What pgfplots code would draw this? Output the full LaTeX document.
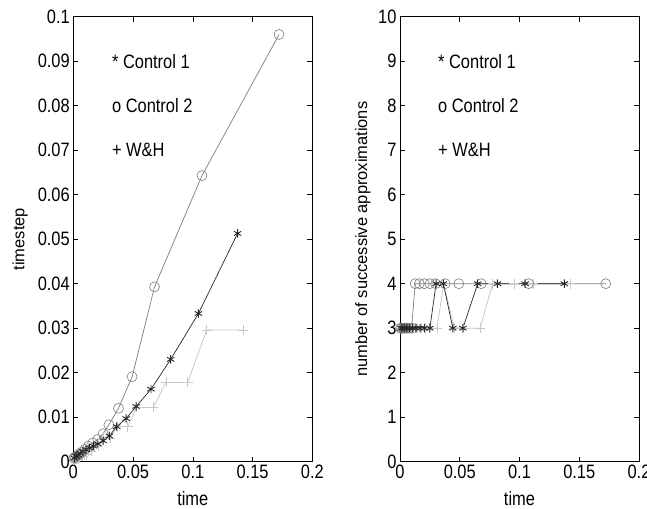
\documentclass[border=0pt]{standalone}
\usepackage{fontspec}
\setmainfont{Liberation Sans}
\usepackage{graphicx}
\usepackage{pgfplots}
\usepackage{pgfplotstable}
\pgfplotsset{compat=1.18}

\definecolor{cone}{RGB}{40,40,40}
\definecolor{ctwo}{RGB}{125,125,125}
\definecolor{cwh}{RGB}{200,200,200}

\newcommand{\tall}[1]{\scalebox{1}[1.18]{#1}}

% time, timestep, number of successive approximations
\pgfplotstableread{
t dt n
0.0010 0.0008 3
0.0024 0.0012 3
0.0040 0.0015 3
0.0058 0.0019 3
0.0080 0.0023 3
0.0105 0.0027 3
0.0135 0.0031 3
0.0168 0.0035 3
0.0205 0.0040 3
0.0250 0.0047 3
0.0302 0.0058 4
0.0363 0.0079 4
0.0442 0.0097 3
0.0526 0.0124 3
0.0650 0.0163 4
0.0815 0.0230 4
0.1047 0.0333 4
0.1375 0.0513 4
}\ctrlone

\pgfplotstableread{
t dt n
0.0004 0.0008 3
0.0013 0.0010 3
0.0025 0.0012 3
0.0038 0.0015 3
0.0054 0.0018 3
0.0073 0.0022 3
0.0097 0.0028 3
0.0127 0.0035 4
0.0162 0.0042 4
0.0204 0.0050 4
0.0250 0.0063 4
0.0298 0.0083 4
0.0378 0.0120 4
0.0492 0.0191 4
0.0680 0.0393 4
0.1077 0.0643 4
0.1722 0.0960 4
}\ctrltwo

\pgfplotstableread{
t dt n
0.0005 0.0004 3
0.0010 0.0004 3
0.0016 0.0005 3
0.0022 0.0005 3
0.0030 0.0007 3
0.0037 0.0007 3
0.0046 0.0009 3
0.0055 0.0009 3
0.0066 0.0012 3
0.0078 0.0012 3
0.0092 0.0016 3
0.0108 0.0016 3
0.0126 0.0023 3
0.0149 0.0023 3
0.0175 0.0035 3
0.0210 0.0035 3
0.0250 0.0053 3
0.0310 0.0053 3
0.0365 0.0079 4
0.0455 0.0079 3
0.0530 0.0122 3
0.0670 0.0122 3
0.0775 0.0178 4
0.0957 0.0178 4
0.1116 0.0296 4
0.1423 0.0296 4
}\wh

\pgfplotsset{
  panel/.style={
    width=239bp, height=445bp, scale only axis,
    xmin=0, xmax=0.2,
    xtick={0,0.05,0.1,0.15,0.2},
    scaled x ticks=false, scaled y ticks=false,
    /pgf/number format/assume math mode=true,
    xticklabel={\tall{\pgfmathprintnumber[fixed,precision=2]{\tick}}},
    yticklabel={\tall{\pgfmathprintnumber[fixed,precision=2]{\tick}}},
    tick align=inside, xtick pos=both, ytick pos=both,
    major tick length=5bp,
    axis line style={line width=0.8pt},
    tick style={black, line width=0.6pt},
    font=\fontsize{16.5}{19}\selectfont,
    xlabel={\tall{time}},
    xlabel style={at={(axis description cs:0.5,-0.083)}, anchor=center},
    clip=false,
  },
  l1/.style={cone, line width=0.7pt, mark=asterisk, mark size=4.2bp, mark options={line width=0.9pt}},
  l2/.style={ctwo, line width=0.7pt, mark=o, mark size=5bp, mark options={line width=0.6pt}},
  l3/.style={cwh, line width=0.8pt, mark=+, mark size=5bp, mark options={line width=0.8pt}},
}

\begin{document}
\begin{tikzpicture}
\begin{axis}[panel,
  ymin=0, ymax=0.1,
  ytick={0,0.01,0.02,0.03,0.04,0.05,0.06,0.07,0.08,0.09,0.1},
  ylabel={timestep},
  ylabel style={at={(axis description cs:-0.222,0.5)}, anchor=center, rotate=0},
]
\addplot[l3] table[x=t, y=dt] {\wh};
\addplot[l2] table[x=t, y=dt] {\ctrltwo};
\addplot[l1] table[x=t, y=dt] {\ctrlone};
\node[anchor=west] at (axis cs:0.0295,0.09) {\tall{* Control 1}};
\node[anchor=west] at (axis cs:0.0295,0.08) {\tall{o Control 2}};
\node[anchor=west] at (axis cs:0.0295,0.07) {\tall{+ W\&H}};
\end{axis}

\begin{axis}[panel, xshift=326.7bp,
  ymin=0, ymax=10,
  ytick={0,1,2,3,4,5,6,7,8,9,10},
  ylabel={number of successive approximations},
  ylabel style={at={(axis description cs:-0.155,0.5)}, anchor=center, rotate=0},
]
\addplot[l3] table[x=t, y=n] {\wh};
\addplot[l2] table[x=t, y=n] {\ctrltwo};
\addplot[l1] table[x=t, y=n] {\ctrlone};
\node[anchor=west] at (axis cs:0.029,9) {\tall{* Control 1}};
\node[anchor=west] at (axis cs:0.029,8) {\tall{o Control 2}};
\node[anchor=west] at (axis cs:0.029,7) {\tall{+ W\&H}};
\end{axis}
\pgfresetboundingbox
\useasboundingbox (-73.3bp,-47.3bp) rectangle (573.7bp,461.7bp);
\end{tikzpicture}
\end{document}
